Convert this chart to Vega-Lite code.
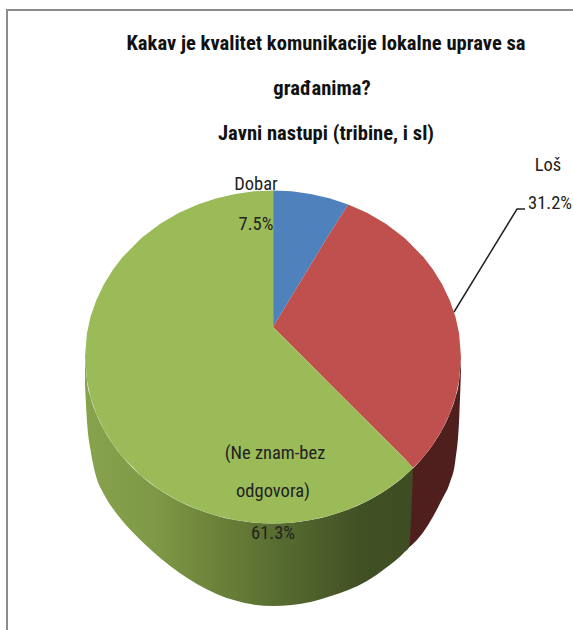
{"$schema":"https://vega.github.io/schema/vega-lite/v6.json","width":573,"height":630,"padding":0,"autosize":"none","background":"white","view":{"stroke":null},"config":{"view":{"stroke":null}},
"datasets":{
"frame":[{"x":7,"y":630},{"x":7,"y":10},{"x":573,"y":10}],
"leader":[{"x":454,"y":312},{"x":517,"y":209},{"x":525,"y":209}],
"sideRed":[{"x":405,"y":476,"y2":551},{"x":423.4,"y":456.9,"y2":532},{"x":432.8,"y":444.7,"y2":517},{"x":442.2,"y":429.6,"y2":499},{"x":449.7,"y":413.8,"y2":483},{"x":455.4,"y":397.5,"y2":460},{"x":459.1,"y":380.5,"y2":420},{"x":460.5,"y":365,"y2":385},{"x":461,"y":357,"y2":370}],
"sideGreen":[{"x":85,"y":357,"y2":385},{"x":86.9,"y":380.5,"y2":420},{"x":90.6,"y":397.5,"y2":450},{"x":96.3,"y":413.8,"y2":477},{"x":103.8,"y":429.6,"y2":494},{"x":113.2,"y":444.7,"y2":509},{"x":122.6,"y":456.9,"y2":521},{"x":141.4,"y":475.9,"y2":541},{"x":160.2,"y":490.2,"y2":558},{"x":179,"y":501.2,"y2":572.4},{"x":197.8,"y":509.6,"y2":584.5},{"x":216.6,"y":515.8,"y2":594},{"x":235.4,"y":520.1,"y2":600.6},{"x":254.2,"y":522.7,"y2":604.7},{"x":273,"y":523.5,"y2":606},{"x":291.8,"y":522.7,"y2":605},{"x":310.6,"y":520.1,"y2":602},{"x":329.4,"y":515.8,"y2":596.5},{"x":348.2,"y":509.6,"y2":590},{"x":367,"y":501.2,"y2":581},{"x":385.8,"y":490.2,"y2":568},{"x":404.6,"y":475.9,"y2":552},{"x":409,"y":472,"y2":547},{"x":413,"y":468,"y2":468}],
"top":[
{"slice":"Dobar","piece":"a","x":273,"y":190.5,"y2":327},{"slice":"Dobar","piece":"a","x":291.8,"y":191.3,"y2":296},{"slice":"Dobar","piece":"a","x":310.6,"y":193.9,"y2":265},{"slice":"Dobar","piece":"a","x":329.4,"y":198.2,"y2":234},{"slice":"Dobar","piece":"a","x":348.2,"y":204.4,"y2":204.4},
{"slice":"Loš","piece":"b","x":273,"y":327,"y2":327},{"slice":"Loš","piece":"b","x":291.8,"y":296,"y2":345.8},{"slice":"Loš","piece":"b","x":310.6,"y":265,"y2":364.6},{"slice":"Loš","piece":"b","x":329.4,"y":234,"y2":383.4},{"slice":"Loš","piece":"b","x":348.2,"y":204.4,"y2":402.2},{"slice":"Loš","piece":"b","x":367,"y":212.8,"y2":421},{"slice":"Loš","piece":"b","x":385.8,"y":223.8,"y2":439.8},{"slice":"Loš","piece":"b","x":404.6,"y":238.1,"y2":458.6},{"slice":"Loš","piece":"b","x":413,"y":246.5,"y2":468},{"slice":"Loš","piece":"b","x":423.4,"y":257.1,"y2":456.9},{"slice":"Loš","piece":"b","x":432.8,"y":269.3,"y2":444.7},{"slice":"Loš","piece":"b","x":442.2,"y":284.4,"y2":429.6},{"slice":"Loš","piece":"b","x":449.7,"y":300.2,"y2":413.8},{"slice":"Loš","piece":"b","x":455.4,"y":316.5,"y2":397.5},{"slice":"Loš","piece":"b","x":459.1,"y":333.5,"y2":380.5},{"slice":"Loš","piece":"b","x":461,"y":357,"y2":357},
{"slice":"Ne znam","piece":"c","x":85,"y":357,"y2":357},{"slice":"Ne znam","piece":"c","x":86.9,"y":333.5,"y2":380.5},{"slice":"Ne znam","piece":"c","x":90.6,"y":316.5,"y2":397.5},{"slice":"Ne znam","piece":"c","x":96.3,"y":300.2,"y2":413.8},{"slice":"Ne znam","piece":"c","x":103.8,"y":284.4,"y2":429.6},{"slice":"Ne znam","piece":"c","x":113.2,"y":269.3,"y2":444.7},{"slice":"Ne znam","piece":"c","x":122.6,"y":257.1,"y2":456.9},{"slice":"Ne znam","piece":"c","x":141.4,"y":238.1,"y2":475.9},{"slice":"Ne znam","piece":"c","x":160.2,"y":223.8,"y2":490.2},{"slice":"Ne znam","piece":"c","x":179,"y":212.8,"y2":501.2},{"slice":"Ne znam","piece":"c","x":197.8,"y":204.4,"y2":509.6},{"slice":"Ne znam","piece":"c","x":216.6,"y":198.2,"y2":515.8},{"slice":"Ne znam","piece":"c","x":235.4,"y":193.9,"y2":520.1},{"slice":"Ne znam","piece":"c","x":254.2,"y":191.3,"y2":522.7},{"slice":"Ne znam","piece":"c","x":273.5,"y":190.5,"y2":523.5},
{"slice":"Ne znam","piece":"d","x":273,"y":327,"y2":523.5},{"slice":"Ne znam","piece":"d","x":291.8,"y":345.8,"y2":522.7},{"slice":"Ne znam","piece":"d","x":310.6,"y":364.6,"y2":520.1},{"slice":"Ne znam","piece":"d","x":329.4,"y":383.4,"y2":515.8},{"slice":"Ne znam","piece":"d","x":348.2,"y":402.2,"y2":509.6},{"slice":"Ne znam","piece":"d","x":367,"y":421,"y2":501.2},{"slice":"Ne znam","piece":"d","x":385.8,"y":439.8,"y2":490.2},{"slice":"Ne znam","piece":"d","x":404.6,"y":458.6,"y2":475.9},{"slice":"Ne znam","piece":"d","x":413,"y":468,"y2":468}],
"title":[{"x":326,"y":50,"t":"Kakav je kvalitet komunikacije lokalne uprave sa"},{"x":322,"y":95,"t":"građanima?"},{"x":326,"y":140,"t":"Javni nastupi (tribine, i sl)"}],
"labels":[{"x":256,"y":190,"t":"Dobar"},{"x":256,"y":230,"t":"7.5%"},{"x":548,"y":171,"t":"Loš"},{"x":550,"y":209,"t":"31.2%"},{"x":275,"y":459,"t":"(Ne znam-bez"},{"x":273,"y":497,"t":"odgovora)"},{"x":273,"y":539,"t":"61.3%"}]
},
"encoding":{"x":{"field":"x","type":"quantitative","scale":{"domain":[0,573],"nice":false,"zero":false},"axis":null},"y":{"field":"y","type":"quantitative","scale":{"domain":[630,0],"nice":false,"zero":false},"axis":null}},
"layer":[
{"data":{"name":"frame"},"mark":{"type":"line","color":"#8c8c8c","strokeWidth":2,"clip":false},"encoding":{"order":{"field":"y","sort":"descending"}}},
{"data":{"name":"sideRed"},"mark":{"type":"area","color":"#4f1f1e","interpolate":"monotone"},"encoding":{"y2":{"field":"y2"}}},
{"data":{"name":"sideGreen"},"mark":{"type":"area","interpolate":"monotone","color":{"gradient":"linear","x1":0,"x2":1,"y1":0,"y2":0,"stops":[{"offset":0,"color":"#87a34c"},{"offset":0.2,"color":"#7f9a47"},{"offset":0.4,"color":"#6c8239"},{"offset":0.6,"color":"#566b30"},{"offset":0.85,"color":"#414f24"},{"offset":1,"color":"#3f4e22"}]}},"encoding":{"y2":{"field":"y2"}}},
{"data":{"name":"top"},"mark":{"type":"area"},"encoding":{"y2":{"field":"y2"},"detail":{"field":"piece"},"color":{"field":"slice","type":"nominal","legend":null,"scale":{"domain":["Dobar","Loš","Ne znam"],"range":["#4f81bd","#c0504d","#9bbb59"]}}}},
{"data":{"name":"leader"},"mark":{"type":"line","color":"#222222","strokeWidth":1.5}},
{"data":{"name":"title"},"mark":{"type":"text","font":"Roboto Condensed, DejaVu Sans Condensed, Lato","fontWeight":"bold","fontSize":20.6,"color":"#111111","align":"center","baseline":"alphabetic"},"encoding":{"text":{"field":"t"}}},
{"data":{"name":"labels"},"mark":{"type":"text","font":"Roboto Condensed, DejaVu Sans Condensed, Lato","fontSize":18.5,"color":"#222222","align":"center","baseline":"alphabetic"},"encoding":{"text":{"field":"t"}}}
]}
